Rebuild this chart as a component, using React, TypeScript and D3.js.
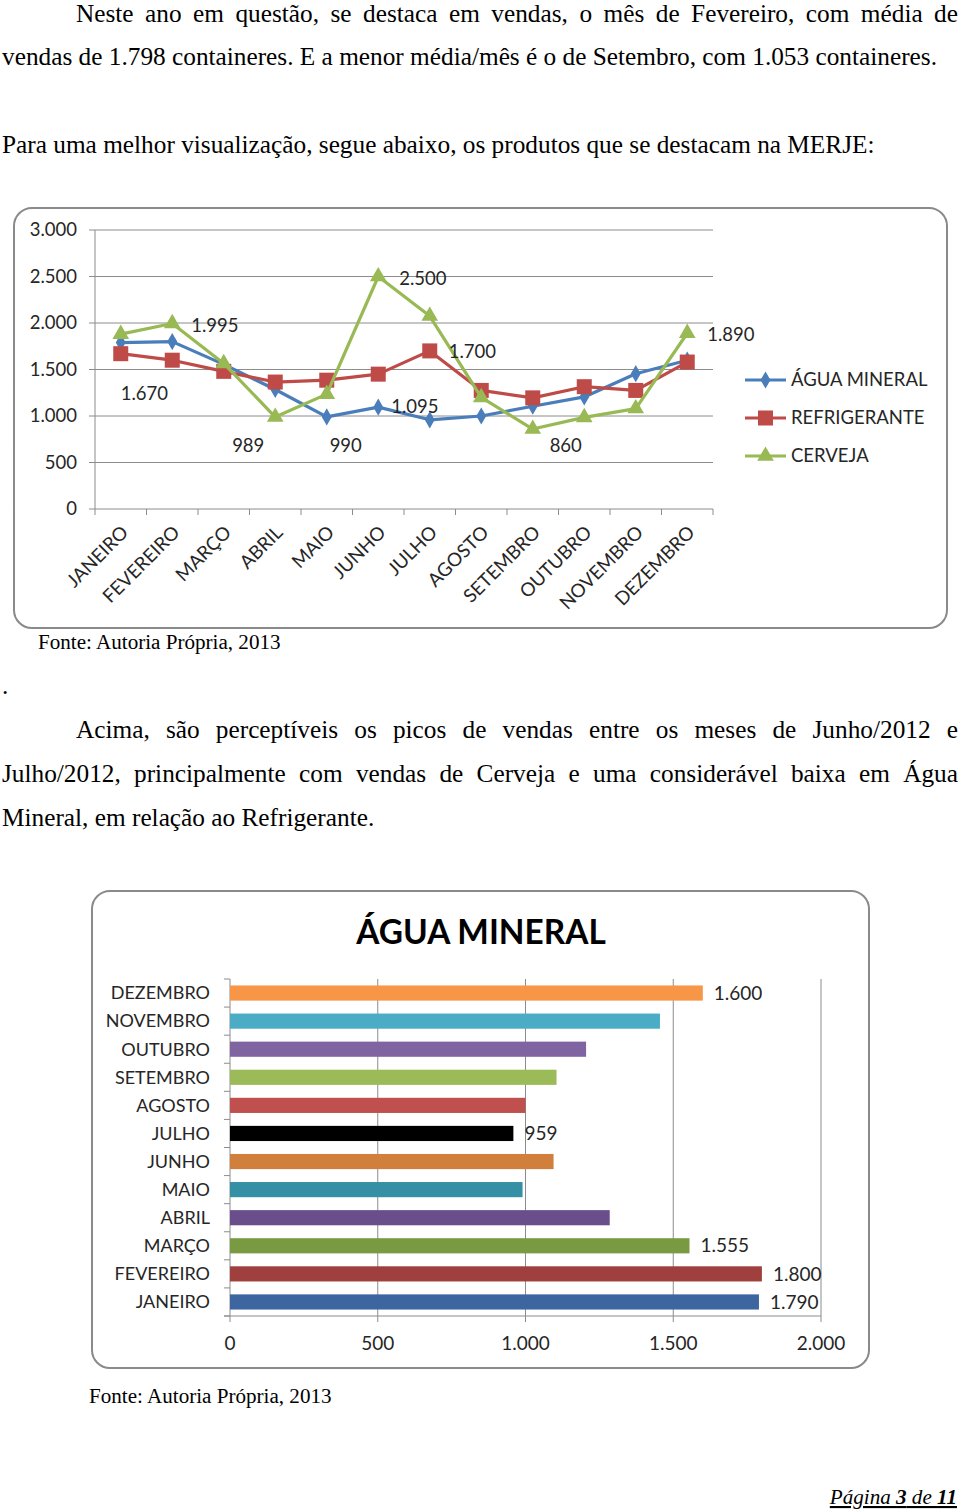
import React, { useEffect } from 'react';
import * as d3 from 'd3';

// ---------- DATA ----------
const months = ['JANEIRO', 'FEVEREIRO', 'MARÇO', 'ABRIL', 'MAIO', 'JUNHO', 'JULHO', 'AGOSTO', 'SETEMBRO', 'OUTUBRO', 'NOVEMBRO', 'DEZEMBRO'];
const aguaMineral = [1790, 1800, 1555, 1285, 990, 1095, 959, 1000, 1105, 1205, 1455, 1600];
const refrigerante = [1670, 1600, 1480, 1365, 1385, 1450, 1700, 1275, 1195, 1315, 1275, 1580];
const cerveja = [1880, 1995, 1565, 989, 1235, 2500, 2075, 1200, 860, 985, 1080, 1890];
const seriesNames = ['ÁGUA MINERAL', 'REFRIGERANTE', 'CERVEJA'];
const seriesColors = ['#4A7EBB', '#BE4B48', '#98B954'];
const lineTicks = [0, 500, 1000, 1500, 2000, 2500, 3000];
const barTicks = [0, 500, 1000, 1500, 2000];
const barColors = ['#3D65A0', '#A0403E', '#7A9A42', '#6A4E8C', '#3690A5', '#D0803C', '#000000', '#C0504D', '#9BBB59', '#8064A2', '#4BACC6', '#F79646'];
const barTitle = 'ÁGUA MINERAL';
// labelled points: series index, month index
const lineLabels = [
  { s: 2, i: 1, dx: 19, dy: 2, anchor: 'start' },
  { s: 2, i: 5, dx: 21, dy: 2, anchor: 'start' },
  { s: 1, i: 0, dx: 0, dy: 40, anchor: 'start' },
  { s: 2, i: 3, dx: -27, dy: 29, anchor: 'middle' },
  { s: 0, i: 4, dx: 19, dy: 29, anchor: 'middle' },
  { s: 0, i: 5, dx: 13, dy: -1, anchor: 'start' },
  { s: 1, i: 6, dx: 19, dy: 1, anchor: 'start' },
  { s: 2, i: 8, dx: 33, dy: 17, anchor: 'middle' },
  { s: 2, i: 11, dx: 20, dy: 1, anchor: 'start' },
];
const barLabelIdx = [11, 6, 2, 1, 0];

const para1 = ['Neste ano em questão, se destaca em vendas, o mês de Fevereiro, com média de', 'vendas de 1.798 containeres. E a menor média/mês é o de Setembro, com 1.053 containeres.'];
const para2 = 'Para uma melhor visualização, segue abaixo, os produtos que se destacam na MERJE:';
const fonte = 'Fonte: Autoria Própria, 2013';
const para3 = ['Acima, são perceptíveis os picos de vendas entre os meses de Junho/2012 e', 'Julho/2012, principalmente com vendas de Cerveja e uma considerável baixa em Água', 'Mineral, em relação ao Refrigerante.'];

const SERIF = '"Liberation Serif", "Times New Roman", serif';
const SANS = 'Lato, "Open Sans", sans-serif';
const TXT = '#262626';
const BODY = 25.3;
const SMALL = 21.1;
const LFS = 18.5;

const loc = d3.formatLocale({ decimal: ',', thousands: '.', grouping: [3], currency: ['R$', ''] });
const fmt = loc.format(',d');

function measureWords(words: string[], font: string) {
  const c = document.createElement('canvas').getContext('2d')!;
  c.font = font;
  return words.map(w => c.measureText(w).width);
}

function Justified({ text, x0, x1, y, size }: { text: string; x0: number; x1: number; y: number; size: number }) {
  const words = text.split(' ');
  const widths = measureWords(words, `${size}px ${SERIF}`);
  const total = widths.reduce((a, b) => a + b, 0);
  const gap = (x1 - x0 - total) / (words.length - 1);
  let x = x0;
  const xs = widths.map(w => { const cur = x; x += w + gap; return cur; });
  return (
    <text y={y} fontFamily={SERIF} fontSize={size} fill="#000">
      {words.map((w, k) => <tspan key={k} x={xs[k]}>{w}</tspan>)}
    </text>
  );
}

function Marker({ kind, x, y, color }: { kind: number; x: number; y: number; color: string }) {
  if (kind === 0) {
    return <path d={d3.symbol(d3.symbolDiamond, 85)()!} transform={`translate(${x},${y})`} fill={color} />;
  }
  if (kind === 1) {
    return <rect x={x - 7.5} y={y - 7.5} width={15} height={15} fill={color} />;
  }
  return <path d={d3.symbol(d3.symbolTriangle, 120)()!} transform={`translate(${x},${y})`} fill={color} />;
}

function LineChart() {
  const x = d3.scaleBand<string>().domain(months).range([95, 713]);
  const y = d3.scaleLinear().domain([0, 3000]).range([509, 230]);
  const cx = (m: string) => x(m)! + x.bandwidth() / 2;
  const data = [aguaMineral, refrigerante, cerveja];
  const line = d3.line<number>().x((_, i) => cx(months[i])).y(d => y(d));
  const bounds = months.map(m => x(m)!).concat([713]);
  return (
    <g>
      <rect x={14} y={208} width={933} height={420} rx={18} fill="#fff" stroke="#8a8a8a" strokeWidth={2} />
      {lineTicks.map(t => (
        <g key={t}>
          <line x1={89} x2={713} y1={y(t)} y2={y(t)} stroke="#8c8c8c" strokeWidth={1} />
          <text x={77} y={y(t)} dy="0.35em" textAnchor="end" fontFamily={SANS} fontSize={LFS} fill={TXT}>{fmt(t)}</text>
        </g>
      ))}
      <line x1={95} x2={95} y1={230} y2={509} stroke="#8c8c8c" />
      {bounds.map((b, k) => <line key={k} x1={b} x2={b} y1={509} y2={515} stroke="#8c8c8c" />)}
      {months.map(m => (
        <text key={m} transform={`translate(${cx(m) + 4},${529}) rotate(-45)`} textAnchor="end" dy="0.35em" fontFamily={SANS} fontSize={18.8} fill={TXT}>{m}</text>
      ))}
      {data.map((d, s) => (
        <g key={s}>
          <path d={line(d)!} fill="none" stroke={seriesColors[s]} strokeWidth={3.2} strokeLinejoin="round" />
          {d.map((v, i) => <Marker key={i} kind={s} x={cx(months[i])} y={y(v)} color={seriesColors[s]} />)}
        </g>
      ))}
      {lineLabels.map((l, k) => {
        const v = data[l.s][l.i];
        return (
          <text key={k} x={cx(months[l.i]) + l.dx} y={y(v) + l.dy} dy="0.35em" textAnchor={l.anchor} fontFamily={SANS} fontSize={LFS} fill={TXT}>{fmt(v)}</text>
        );
      })}
      {seriesNames.map((n, s) => {
        const ly = 380 + s * 38;
        return (
          <g key={n}>
            <line x1={745} x2={786} y1={ly} y2={ly} stroke={seriesColors[s]} strokeWidth={3.2} />
            <Marker kind={s} x={765.5} y={ly} color={seriesColors[s]} />
            <text x={791} y={ly} dy="0.35em" fontFamily={SANS} fontSize={LFS} fill={TXT}>{n}</text>
          </g>
        );
      })}
    </g>
  );
}

function BarChart() {
  const x = d3.scaleLinear().domain([0, 2000]).range([230, 821]);
  const y = d3.scaleBand<string>().domain(months).range([1316, 979]).paddingInner(0.46).paddingOuter(0.23);
  const yb = d3.scaleBand<string>().domain(months).range([1316, 979]);
  const bounds = months.map(m => yb(m)!).concat([1316]);
  return (
    <g>
      <rect x={92} y={891} width={777} height={477} rx={18} fill="#fff" stroke="#8a8a8a" strokeWidth={2} />
      <text x={481} y={944} textAnchor="middle" fontFamily={SANS} fontWeight={700} fontSize={33.4} fill="#000">{barTitle}</text>
      {barTicks.map(t => (
        <g key={t}>
          {t > 0 && <line x1={x(t)} x2={x(t)} y1={979} y2={1316} stroke="#8c8c8c" />}
          <line x1={x(t)} x2={x(t)} y1={1316} y2={1322} stroke="#8c8c8c" />
          <text x={x(t)} y={1343} dy="0.35em" textAnchor="middle" fontFamily={SANS} fontSize={19} fill={TXT}>{fmt(t)}</text>
        </g>
      ))}
      <line x1={230} x2={230} y1={979} y2={1316} stroke="#8c8c8c" />
      <line x1={224} x2={821} y1={1316} y2={1316} stroke="#8c8c8c" />
      {bounds.map((b, k) => <line key={k} x1={224} x2={230} y1={b} y2={b} stroke="#8c8c8c" />)}
      {months.map((m, i) => (
        <g key={m}>
          <rect x={x(0)} y={y(m)!} width={x(aguaMineral[i]) - x(0)} height={y.bandwidth()} fill={barColors[i]} />
          <text x={210} y={yb(m)! + yb.bandwidth() / 2} dy="0.35em" textAnchor="end" fontFamily={SANS} fontSize={18} fill={TXT}>{m}</text>
        </g>
      ))}
      {barLabelIdx.map(i => (
        <text key={i} x={x(aguaMineral[i]) + 11} y={yb(months[i])! + yb.bandwidth() / 2} dy="0.35em" fontFamily={SANS} fontSize={19} fill={TXT}>{fmt(aguaMineral[i])}</text>
      ))}
    </g>
  );
}

export default function App() {
  useEffect(() => { document.body.style.margin = '0'; }, []);
  return (
    <svg width={960} height={1511} style={{ position: 'absolute', left: 0, top: 0, background: '#fff' }}>
      <rect width={960} height={1511} fill="#fff" />
      <Justified text={para1[0]} x0={76} x1={958} y={22} size={BODY} />
      <text x={2} y={65} fontFamily={SERIF} fontSize={BODY} fill="#000">{para1[1]}</text>
      <text x={2} y={153} fontFamily={SERIF} fontSize={BODY} fill="#000">{para2}</text>
      <LineChart />
      <text x={38} y={649} fontFamily={SERIF} fontSize={SMALL} fill="#000">{fonte}</text>
      <text x={2} y={694} fontFamily={SERIF} fontSize={BODY} fill="#000">.</text>
      <Justified text={para3[0]} x0={76} x1={958} y={738} size={BODY} />
      <Justified text={para3[1]} x0={2} x1={958} y={782} size={BODY} />
      <text x={2} y={826} fontFamily={SERIF} fontSize={BODY} fill="#000">{para3[2]}</text>
      <BarChart />
      <text x={89} y={1403} fontFamily={SERIF} fontSize={SMALL} fill="#000">{fonte}</text>
      <text x={957} y={1504} textAnchor="end" fontFamily={SERIF} fontSize={SMALL} fontStyle="italic" textDecoration="underline" fill="#000">
        Página <tspan fontWeight={700}>3</tspan> de <tspan fontWeight={700}>11</tspan>
      </text>
    </svg>
  );
}
